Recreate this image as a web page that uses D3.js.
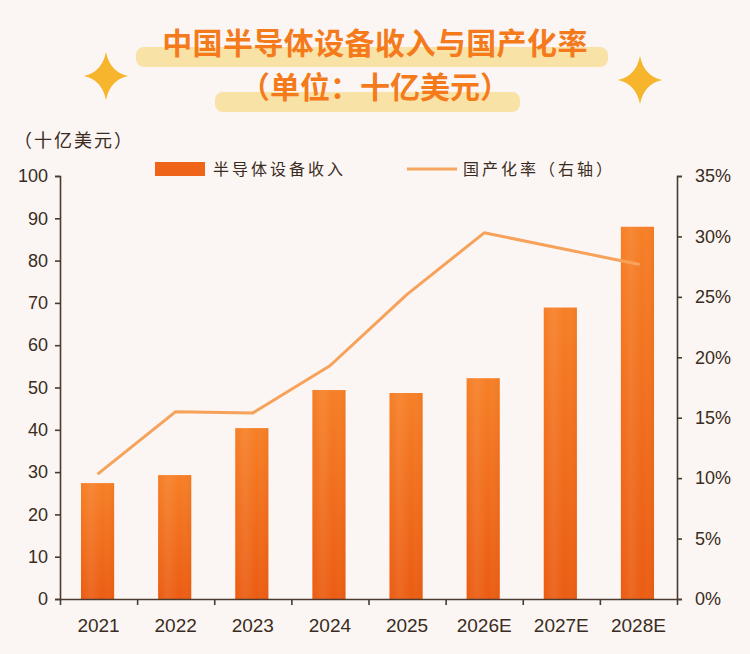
<!DOCTYPE html>
<html>
<head>
<meta charset="utf-8">
<script src="https://cdn.jsdelivr.net/npm/d3@7"></script>
<style>
	body { margin: 0; background: #fbf6f3; }
	svg { display: block; }
</style>
</head>
<body>
<svg id="chart"></svg>
<script>
var width = 750,
	height = 654;
var margin = ({top: 176, right: 73, bottom: 55, left: 60});

// data
var years = ["2021", "2022", "2023", "2024", "2025", "2026E", "2027E", "2028E"];
var revenue = [27.4, 29.3, 40.4, 49.4, 48.7, 52.2, 68.9, 88.0];          // 十亿美元
var localRate = [0.104, 0.155, 0.154, 0.193, 0.252, 0.303, 0.290, 0.277]; // 国产化率
var leftTicks = [0, 10, 20, 30, 40, 50, 60, 70, 80, 90, 100];
var rightTicks = [0, 0.05, 0.10, 0.15, 0.20, 0.25, 0.30, 0.35];

var axisColor = '#4a3a30';
var textFont = '"Liberation Sans", Arial, sans-serif';
var cjkFont = '"Noto Sans CJK SC", "Noto Sans", sans-serif';

var svg = d3.select('#chart')
	.attr('width', width)
	.attr('height', height);

svg.append('rect')
	.attr('width', width)
	.attr('height', height)
	.attr('fill', '#fbf6f3');

var defs = svg.append('defs');
var grad = defs.append('linearGradient')
	.attr('id', 'barGrad')
	.attr('x1', 0).attr('y1', 0).attr('x2', 0).attr('y2', 1);
grad.append('stop').attr('offset', '0%').attr('stop-color', '#f67f26');
grad.append('stop').attr('offset', '100%').attr('stop-color', '#eb5c12');

var gradH = defs.append('linearGradient')
	.attr('id', 'barGradH')
	.attr('x1', 0).attr('y1', 0).attr('x2', 1).attr('y2', 0);
gradH.append('stop').attr('offset', '0%').attr('stop-color', '#ffffff').attr('stop-opacity', 0.0);
gradH.append('stop').attr('offset', '30%').attr('stop-color', '#ffffff').attr('stop-opacity', 0.08);
gradH.append('stop').attr('offset', '65%').attr('stop-color', '#ffffff').attr('stop-opacity', 0.0);
gradH.append('stop').attr('offset', '100%').attr('stop-color', '#c84a00').attr('stop-opacity', 0.10);

// ---- title ----
svg.append('rect')
	.attr('x', 136).attr('y', 47)
	.attr('width', 472).attr('height', 20)
	.attr('rx', 8)
	.attr('fill', '#f9e2a6');
svg.append('rect')
	.attr('x', 215).attr('y', 92)
	.attr('width', 305).attr('height', 20)
	.attr('rx', 8)
	.attr('fill', '#f9e2a6');

svg.append('text')
	.attr('x', 375).attr('y', 54)
	.attr('text-anchor', 'middle')
	.attr('font-family', cjkFont)
	.attr('font-weight', 'bold')
	.attr('font-size', 30)
	.attr('letter-spacing', 0.4)
	.attr('fill', '#f47a1c')
	.text('中国半导体设备收入与国产化率');
svg.append('text')
	.attr('x', 375).attr('y', 98)
	.attr('text-anchor', 'middle')
	.attr('font-family', cjkFont)
	.attr('font-weight', 'bold')
	.attr('font-size', 30)
	.attr('fill', '#f47a1c')
	.text('（单位：十亿美元）');

// sparkle stars
function star(cx, cy, rx, ry) {
	var k = 4;
	return 'M' + cx + ',' + (cy - ry) +
		' Q' + (cx + k) + ',' + (cy - k) + ' ' + (cx + rx) + ',' + cy +
		' Q' + (cx + k) + ',' + (cy + k) + ' ' + cx + ',' + (cy + ry) +
		' Q' + (cx - k) + ',' + (cy + k) + ' ' + (cx - rx) + ',' + cy +
		' Q' + (cx - k) + ',' + (cy - k) + ' ' + cx + ',' + (cy - ry) + 'Z';
}
svg.append('path').attr('d', star(106, 76, 22, 24)).attr('fill', '#f6b52c');
svg.append('path').attr('d', star(640, 80, 22, 24)).attr('fill', '#f6b52c');

// unit label
svg.append('text')
	.attr('x', 14).attr('y', 147)
	.attr('font-family', cjkFont)
	.attr('font-size', 18)
	.attr('letter-spacing', 2)
	.attr('fill', '#3a2c22')
	.text('（十亿美元）');

// ---- legend ----
svg.append('rect')
	.attr('x', 155).attr('y', 162)
	.attr('width', 50).attr('height', 14)
	.attr('fill', '#ee6418');
svg.append('text')
	.attr('x', 213).attr('y', 175)
	.attr('font-family', cjkFont)
	.attr('font-size', 16)
	.attr('letter-spacing', 3)
	.attr('fill', '#3a2c22')
	.text('半导体设备收入');
svg.append('line')
	.attr('x1', 407).attr('x2', 457)
	.attr('y1', 169).attr('y2', 169)
	.attr('stroke', '#f7a660')
	.attr('stroke-width', 3);
svg.append('text')
	.attr('x', 463).attr('y', 175)
	.attr('font-family', cjkFont)
	.attr('font-size', 16)
	.attr('letter-spacing', 3)
	.attr('fill', '#3a2c22')
	.text('国产化率（右轴）');

// ---- scales ----
var x = d3.scaleBand()
	.domain(years)
	.range([margin.left, width - margin.right]);

var xEdge = d3.scaleLinear()
	.domain([0, years.length])
	.range([margin.left, width - margin.right]);

var yL = d3.scaleLinear()
	.domain([0, 100])
	.range([height - margin.bottom, margin.top]);

var yR = d3.scaleLinear()
	.domain([0, 0.35])
	.range([height - margin.bottom, margin.top]);

var barW = x.bandwidth() * 0.43;

// bars
var bars = svg.append('g')
	.selectAll('g')
	.data(years)
	.join('g');
bars.append('rect')
	.attr('x', (d) => x(d) + x.bandwidth() / 2 - barW / 2 - 1)
	.attr('y', (d, i) => yL(revenue[i]))
	.attr('width', barW)
	.attr('height', (d, i) => yL(0) - yL(revenue[i]))
	.attr('fill', 'url(#barGrad)');
bars.append('rect')
	.attr('x', (d) => x(d) + x.bandwidth() / 2 - barW / 2 - 1)
	.attr('y', (d, i) => yL(revenue[i]))
	.attr('width', barW)
	.attr('height', (d, i) => yL(0) - yL(revenue[i]))
	.attr('fill', 'url(#barGradH)');

// localisation rate line
var line = d3.line()
	.x((d, i) => x(years[i]) + x.bandwidth() / 2)
	.y((d) => yR(d));
svg.append('path')
	.attr('d', line(localRate))
	.attr('fill', 'none')
	.attr('stroke', '#f7a25a')
	.attr('stroke-width', 3)
	.attr('stroke-linejoin', 'round')
	.attr('stroke-linecap', 'round');

// ---- axes ----
function styleAxis(g) {
	g.select('.domain').attr('stroke', axisColor).attr('stroke-width', 1.6);
	g.selectAll('.tick line').attr('stroke', axisColor).attr('stroke-width', 1.6);
	g.selectAll('.tick text')
		.attr('fill', '#3a2c22')
		.attr('font-family', textFont)
		.attr('font-size', 18);
}

svg.append('g')
	.attr('transform', 'translate(' + margin.left + ',0)')
	.call(d3.axisLeft(yL).tickValues(leftTicks).tickSize(5).tickPadding(7).tickSizeOuter(5))
	.call(styleAxis);

svg.append('g')
	.attr('transform', 'translate(' + (width - margin.right) + ',0)')
	.call(d3.axisRight(yR).tickValues(rightTicks).tickSize(5).tickPadding(13).tickSizeOuter(5).tickFormat(d3.format('.0%')))
	.call(styleAxis);

svg.append('g')
	.attr('transform', 'translate(0,' + (height - margin.bottom) + ')')
	.call(d3.axisBottom(xEdge).ticks(years.length).tickSize(6).tickSizeOuter(0).tickFormat(''))
	.call(styleAxis);

svg.append('g')
	.attr('transform', 'translate(0,' + (height - margin.bottom) + ')')
	.call(d3.axisBottom(x).tickSize(0).tickPadding(20))
	.call(g => g.select('.domain').remove())
	.call(styleAxis)
	.call(g => g.selectAll('.tick text').attr('font-size', 19));
</script>
</body>
</html>
